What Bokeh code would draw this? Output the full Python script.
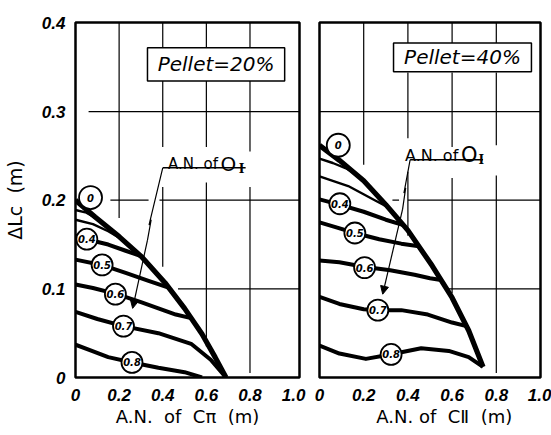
import math
from bokeh.plotting import figure
from bokeh.layouts import row
from bokeh.models import (Range1d, FixedTicker, Label, Arrow, NormalHead,
                          BoxAnnotation, NumeralTickFormatter)
from bokeh.embed import file_html
from bokeh.resources import INLINE
from bokeh.core.properties import value

# ---------------- data : Pellet = 20 % ----------------
p20_env_x = [0.0, 0.09, 0.2, 0.3, 0.41, 0.5, 0.58, 0.64, 0.69]
p20_env_y = [0.2, 0.181, 0.159, 0.137, 0.107, 0.078, 0.049, 0.023, 0.0]
p20_a_x = [0.0, 0.05, 0.1]
p20_a_y = [0.189, 0.186, 0.179]
p20_b_x = [0.0, 0.08, 0.15, 0.22]
p20_b_y = [0.178, 0.173, 0.165, 0.155]
p20_04_x = [0.0, 0.05, 0.15, 0.23, 0.3]
p20_04_y = [0.16, 0.156, 0.15, 0.143, 0.137]
p20_05_x = [0.0, 0.12, 0.23, 0.335, 0.43]
p20_05_y = [0.133, 0.127, 0.118, 0.109, 0.101]
p20_06_x = [0.0, 0.08, 0.19, 0.3, 0.38, 0.46, 0.53]
p20_06_y = [0.105, 0.101, 0.094, 0.085, 0.078, 0.071, 0.067]
p20_07_x = [0.0, 0.1, 0.22, 0.38, 0.53, 0.62, 0.69]
p20_07_y = [0.074, 0.066, 0.058, 0.05, 0.038, 0.02, 0.0]
p20_08_x = [0.0, 0.075, 0.15, 0.26, 0.38, 0.5, 0.58]
p20_08_y = [0.037, 0.03, 0.023, 0.017, 0.011, 0.006, 0.0]
p20_lab_text = ["0", "0.4", "0.5", "0.6", "0.7", "0.8"]
p20_lab_x = [0.069, 0.052, 0.122, 0.183, 0.22, 0.259]
p20_lab_y = [0.203, 0.156, 0.127, 0.094, 0.058, 0.017]

# ---------------- data : Pellet = 40 % ----------------
p40_env_x = [0.0, 0.09, 0.2, 0.3, 0.4, 0.51, 0.6, 0.675, 0.74]
p40_env_y = [0.262, 0.245, 0.222, 0.195, 0.166, 0.126, 0.09, 0.053, 0.012]
p40_a_x = [0.0, 0.06, 0.12, 0.16]
p40_a_y = [0.247, 0.242, 0.236, 0.23]
p40_b_x = [0.0, 0.13, 0.25, 0.31]
p40_b_y = [0.227, 0.216, 0.2, 0.192]
p40_04_x = [0.0, 0.09, 0.2, 0.3, 0.38]
p40_04_y = [0.201, 0.195, 0.187, 0.178, 0.172]
p40_05_x = [0.0, 0.08, 0.16, 0.27, 0.37, 0.45]
p40_05_y = [0.175, 0.169, 0.163, 0.156, 0.151, 0.148]
p40_06_x = [0.0, 0.09, 0.2, 0.32, 0.43, 0.5, 0.55]
p40_06_y = [0.132, 0.13, 0.125, 0.121, 0.116, 0.112, 0.11]
p40_07_x = [0.0, 0.09, 0.2, 0.27, 0.37, 0.49, 0.6, 0.665]
p40_07_y = [0.091, 0.083, 0.077, 0.076, 0.076, 0.071, 0.062, 0.058]
p40_08_x = [0.0, 0.09, 0.21, 0.32, 0.46, 0.585, 0.675, 0.74]
p40_08_y = [0.036, 0.027, 0.021, 0.026, 0.033, 0.03, 0.023, 0.012]
p40_lab_text = ["0", "0.4", "0.5", "0.6", "0.7", "0.8"]
p40_lab_x = [0.085, 0.092, 0.16, 0.204, 0.264, 0.324]
p40_lab_y = [0.262, 0.196, 0.163, 0.124, 0.076, 0.026]

# axis ticks and titles
NB = "\u00a0"
x_ticks = [0.0, 0.2, 0.4, 0.6, 0.8, 1.0]
y_ticks = [0.0, 0.1, 0.2, 0.3, 0.4]
y_title = "ΔLc" + NB + NB + "(m)"
x_title_20 = "A.N." + NB + NB + "of" + NB + NB + "Cπ" + NB + NB + "(m)"
x_title_40 = NB * 5 + "A.N." + NB + "of" + NB + NB + "CⅡ" + NB + NB + "(m)"

# partial grid lines (x0, y0, x1, y1)
p20_grid = dict(
    x0=[0.2, 0.4, 0.4, 0.4, 0.6, 0.6, 0.6, 0.8, 0.8, 0.8, 0.06, 0.16, 0.385, 0.47],
    y0=[0.18, 0.125, 0.26, 0.372, 0.035, 0.26, 0.372, 0.005, 0.255, 0.372, 0.3, 0.2, 0.2, 0.1],
    x1=[0.2, 0.4, 0.4, 0.4, 0.6, 0.6, 0.6, 0.8, 0.8, 0.8, 1.03, 0.335, 1.03, 1.03],
    y1=[0.4, 0.215, 0.335, 0.4, 0.22, 0.335, 0.4, 0.215, 0.335, 0.4, 0.3, 0.2, 0.2, 0.1],
)
p40_grid = dict(
    x0=[0.2, 0.4, 0.4, 0.4, 0.6, 0.6, 0.6, 0.8, 0.8, 0.8, 0.0, 0.33, 0.4, 0.58],
    y0=[0.24, 0.16, 0.27, 0.377, 0.095, 0.26, 0.377, 0.005, 0.262, 0.377, 0.3, 0.2, 0.2, 0.1],
    x1=[0.2, 0.4, 0.4, 0.4, 0.6, 0.6, 0.6, 0.8, 0.8, 0.8, 1.0, 0.36, 1.0, 1.0],
    y1=[0.4, 0.232, 0.344, 0.4, 0.225, 0.344, 0.4, 0.228, 0.344, 0.4, 0.3, 0.2, 0.2, 0.1],
)

TICK_FONT = "Liberation Sans"
TXT_FONT = "DejaVu Sans"


def make_panel(width, ml, mr, xmax, show_y, env, thin, bold, labels, grid, xtitle):
    p = figure(width=width, height=432, x_range=Range1d(0, xmax),
               y_range=Range1d(0, 0.4005), output_backend="svg",
               toolbar_location=None, min_border_left=ml, min_border_right=mr,
               min_border_top=22, min_border_bottom=55,
               y_axis_location="left" if show_y else None)
    p.outline_line_color = "black"
    p.outline_line_width = 2.5
    p.xgrid.visible = False
    p.ygrid.visible = False
    p.background_fill_color = "white"
    p.border_fill_color = "white"

    axes = [p.xaxis[0]] + ([p.yaxis[0]] if show_y else [])
    for ax in axes:
        ax.axis_line_color = None
        ax.major_tick_line_color = None
        ax.minor_tick_line_color = None
        ax.major_label_text_font = TICK_FONT
        ax.major_label_text_font_style = "bold italic"
        ax.major_label_text_font_size = "17px"
        ax.major_label_text_color = "black"
        ax.formatter = NumeralTickFormatter(format="0.0")
        ax.major_label_overrides = {0: "0"}
        ax.axis_label_text_font = TXT_FONT
        ax.axis_label_text_font_style = "normal"
        ax.axis_label_text_color = "black"
    p.xaxis.ticker = FixedTicker(ticks=x_ticks)
    p.xaxis.major_label_standoff = 5
    p.xaxis.axis_label = xtitle
    p.xaxis.axis_label_text_font_size = "18px"
    p.xaxis.axis_label_standoff = 2
    if show_y:
        p.yaxis.ticker = FixedTicker(ticks=y_ticks)
        p.yaxis.major_label_standoff = 4
        p.yaxis.axis_label = y_title
        p.yaxis.axis_label_text_font_size = "19px"
        p.yaxis.axis_label_standoff = 13

    p.segment(x0=grid["x0"], y0=grid["y0"], x1=grid["x1"], y1=grid["y1"],
              line_color="black", line_width=1.2)

    for xs, ys in thin:
        p.line(xs, ys, line_color="black", line_width=2.4, line_join="round")
    for xs, ys in bold:
        p.line(xs, ys, line_color="black", line_width=4.0, line_join="round")
    p.line(env[0], env[1], line_color="black", line_width=5.2, line_join="round")

    txt, lx, ly = labels
    sizes = [23 if t == "0" else 21 for t in txt]
    p.scatter(lx, ly, size=sizes, marker="circle", fill_color="white",
              line_color="black", line_width=1.8)
    p.text(lx, ly, text=txt, text_align="center", text_baseline="middle",
           text_font=value(TXT_FONT), text_font_style="bold italic",
           text_font_size="10px", text_color="black")
    return p


p1 = make_panel(309, 75, 10, 1.027, True,
                (p20_env_x, p20_env_y),
                [(p20_a_x, p20_a_y), (p20_b_x, p20_b_y)],
                [(p20_04_x, p20_04_y), (p20_05_x, p20_05_y), (p20_06_x, p20_06_y),
                 (p20_07_x, p20_07_y), (p20_08_x, p20_08_y)],
                (p20_lab_text, p20_lab_x, p20_lab_y), p20_grid, x_title_20)
p2 = make_panel(242, 10, 11, 1.0, False,
                (p40_env_x, p40_env_y),
                [(p40_a_x, p40_a_y), (p40_b_x, p40_b_y)],
                [(p40_04_x, p40_04_y), (p40_05_x, p40_05_y), (p40_06_x, p40_06_y),
                 (p40_07_x, p40_07_y), (p40_08_x, p40_08_y)],
                (p40_lab_text, p40_lab_x, p40_lab_y), p40_grid, x_title_40)

# Pellet boxes
for p, (l, r, b, t), s in [(p1, (0.33, 0.959, 0.3346, 0.372), "Pellet=20%"),
                           (p2, (0.335, 0.959, 0.345, 0.3775), "Pellet=40%")]:
    p.add_layout(BoxAnnotation(left=l, right=r, bottom=b, top=t, fill_color="white",
                               fill_alpha=1.0, line_color="black", line_width=1.5,
                               line_alpha=1.0))
    p.add_layout(Label(x=(l + r) / 2, y=(b + t) / 2, text=s, text_align="center",
                       text_baseline="middle", text_font=TXT_FONT,
                       text_font_style="italic", text_font_size="20px",
                       text_color="black"))


# "A.N. of O_I" annotations with leader + arrow
def an_note(p, o_x, base_y, i_x, ul_x0, ul_x1, ul_y, leader_x, leader_y, tip, fs, ofs, sub_dy):
    p.add_layout(Label(x=o_x - 0.012, y=base_y, text="A.N. of", text_align="right",
                       text_baseline="alphabetic", text_font=TXT_FONT,
                       text_font_size=fs, text_color="black"))
    p.add_layout(Label(x=o_x, y=base_y, text="O", text_align="left",
                       text_baseline="alphabetic", text_font=TXT_FONT,
                       text_font_size=ofs, text_color="black"))
    p.add_layout(Label(x=i_x, y=base_y - sub_dy, text="I", text_align="left",
                       text_baseline="alphabetic", text_font="DejaVu Serif",
                       text_font_style="bold", text_font_size="12px", text_color="black"))
    p.line([ul_x0, ul_x1], [ul_y, ul_y], line_color="black", line_width=1.4)
    p.line(leader_x, leader_y, line_color="black", line_width=1.2)
    p.add_layout(Arrow(x_start=leader_x[-1], y_start=leader_y[-1], x_end=tip[0], y_end=tip[1],
                       line_color="black", line_width=1.2,
                       end=NormalHead(size=8, fill_color="black", line_color="black")))


an_note(p1, 0.665, 0.241, 0.748, 0.40, 0.78, 0.2366,
        [0.40, 0.337, 0.347, 0.33], [0.2366, 0.172, 0.178, 0.155], (0.262, 0.078),
        "15px", "20px", 0.006)
an_note(p2, 0.64, 0.251, 0.72, 0.41, 0.74, 0.2456,
        [0.41, 0.382, 0.39, 0.376], [0.2456, 0.208, 0.214, 0.19], (0.286, 0.094),
        "16px", "21px", 0.006)

layout = row(p1, p2)
open("out.html", "w").write(file_html(layout, INLINE))
